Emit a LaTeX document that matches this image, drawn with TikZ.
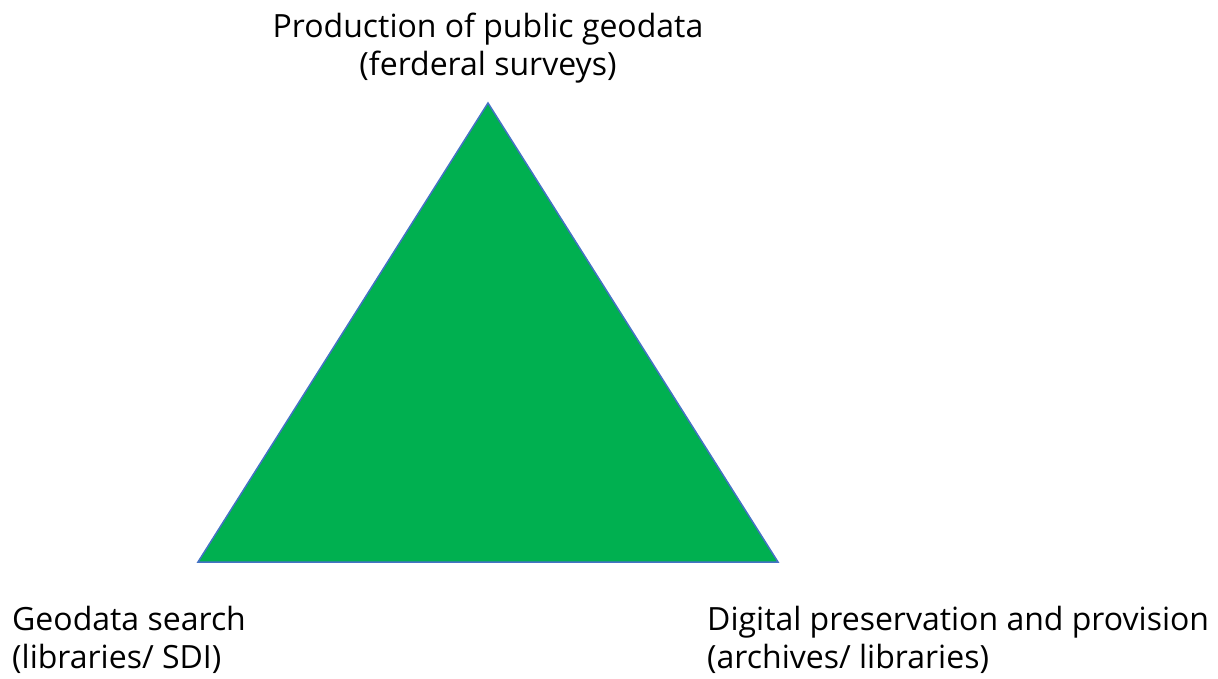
\documentclass[tikz,border=0pt]{standalone}
\usepackage{fontspec}
\setmainfont{Open Sans}
\definecolor{triGreen}{RGB}{0,176,80}
\definecolor{triEdge}{RGB}{68,114,196}
\tikzset{
    cornerlabel/.style={align=left,font=\fontsize{32}{38}\selectfont,inner sep=0pt},
}

\begin{document}
\begin{tikzpicture}[x=1pt,y=-1pt]
        \useasboundingbox (0,0) rectangle (1218,679);
        %% corners of the triangle
        \coordinate (top) at (488,103);
        \coordinate (left) at (198,562);
        \coordinate (right) at (778,562);
        \filldraw[fill=triGreen,draw=triEdge,line width=1.5pt,line join=miter] (top) -- (right) -- (left) -- cycle;
        % labels
        \node[cornerlabel,align=center] (toplabel) at (488,48) {Production of public geodata\\(ferderal surveys)};
        \node[cornerlabel,anchor=west] (leftlabel) at (12,640) {Geodata search\\(libraries/ SDI)};
        \node[cornerlabel,anchor=west] (rightlabel) at (707,640) {Digital preservation and provision\\(archives/ libraries)};
    \end{tikzpicture}
\end{document}
